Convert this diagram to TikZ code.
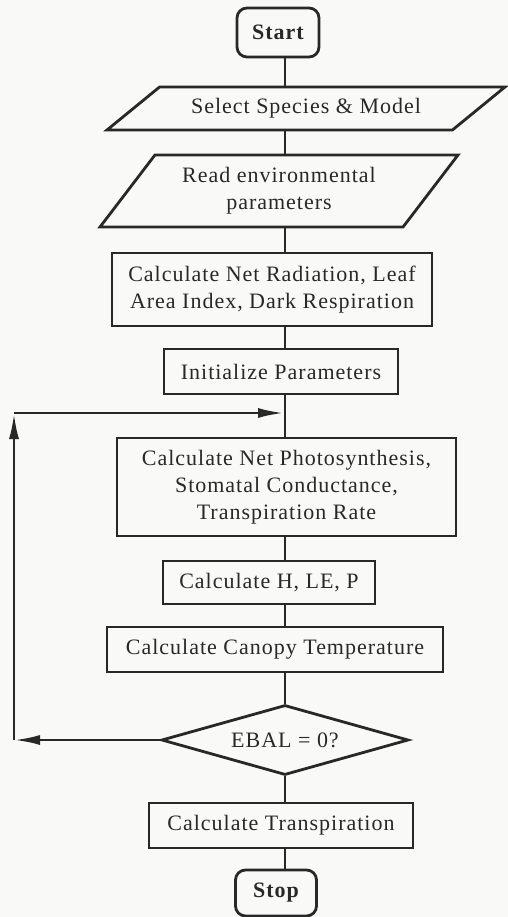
\documentclass[tikz,border=0pt]{standalone}
\usepackage{fontspec}
\setmainfont[LetterSpace=4.5]{Liberation Serif}
\usepackage{tikz}
\usetikzlibrary{arrows.meta,shapes.geometric,positioning,calc}
\definecolor{inkgray}{RGB}{40,40,40}
\definecolor{papergray}{RGB}{249,249,247}

\begin{document}
\begin{tikzpicture}[x=0.5pt, y=-0.5pt,
    box/.style={rectangle, draw=inkgray, line width=1.4pt, align=center, inner sep=2pt, text=inkgray, font=\fontsize{11}{13.5}\selectfont},
    term/.style={box, rounded corners=5pt, font=\fontsize{11}{13.5}\selectfont\bfseries},
    io/.style={box, trapezium, trapezium stretches body},
    decide/.style={box, diamond, inner sep=0pt, aspect=3.5},
    flow/.style={draw=inkgray, line width=1.4pt},
    arr/.style={flow, -{Latex[length=13pt,width=5pt]}},
]
\fill[papergray] (0,0) rectangle (508,917);
\useasboundingbox (0,0) rectangle (508,917);
\coordinate (spine) at (285,0);

\node[term, minimum width=41pt, minimum height=24.5pt] (start) at (278,32.5) {Start};
\node[io, trapezium left angle=28, trapezium right angle=152, minimum width=199pt, minimum height=21.5pt] (sel) at (306,108.5) {Select Species \& Model};
\node[io, trapezium left angle=45, trapezium right angle=135, minimum width=179pt, minimum height=36pt] (env) at (279,191) {Read environmental\\parameters};
\node[box, minimum width=160pt, minimum height=36.5pt] (rad) at (272,289.5) {Calculate Net Radiation, Leaf\\Area Index, Dark Respiration};
\node[box, minimum width=117pt, minimum height=22.5pt] (init) at (281,371.5) {Initialize Parameters};
\node[box, minimum width=169.5pt, minimum height=49pt] (photo) at (286.5,487) {Calculate Net Photosynthesis,\\Stomatal Conductance,\\Transpiration Rate};
\node[box, minimum width=106pt, minimum height=21.5pt] (hlep) at (269,582.5) {Calculate H, LE, P};
\node[box, minimum width=168pt, minimum height=22.5pt] (canopy) at (275,649.5) {Calculate Canopy Temperature};
\node[decide, minimum width=123.5pt, minimum height=35pt] (dec) at (285,740) {EBAL = 0?};
\node[box, minimum width=132pt, minimum height=22.5pt] (trans) at (281,825.5) {Calculate Transpiration};
\node[term, minimum width=40.5pt, minimum height=23pt] (stop) at (276,893) {Stop};

% main column
\draw[flow] (start.south -| spine) -- (sel.north -| spine);
\draw[flow] (sel.south -| spine) -- (env.north -| spine);
\draw[flow] (env.south -| spine) -- (rad.north -| spine);
\draw[flow] (rad.south -| spine) -- (init.north -| spine);
\draw[flow] (init.south -| spine) -- (photo.north -| spine);
\draw[flow] (photo.south -| spine) -- (hlep.north -| spine);
\draw[flow] (hlep.south -| spine) -- (canopy.north -| spine);
\draw[flow] (canopy.south -| spine) -- (dec.north);
\draw[flow] (dec.south) -- (trans.north -| spine);
\draw[flow] (trans.south -| spine) -- (stop.north -| spine);

% loop back
\coordinate (join) at (284,413);
\coordinate (loopbot) at (14,740);
\coordinate (looptop) at (14,413);
\draw[arr] (dec.west) -- (loopbot);
\draw[arr] (loopbot) -- (looptop);
\draw[arr] (looptop) -- (join);
\end{tikzpicture}
\end{document}
